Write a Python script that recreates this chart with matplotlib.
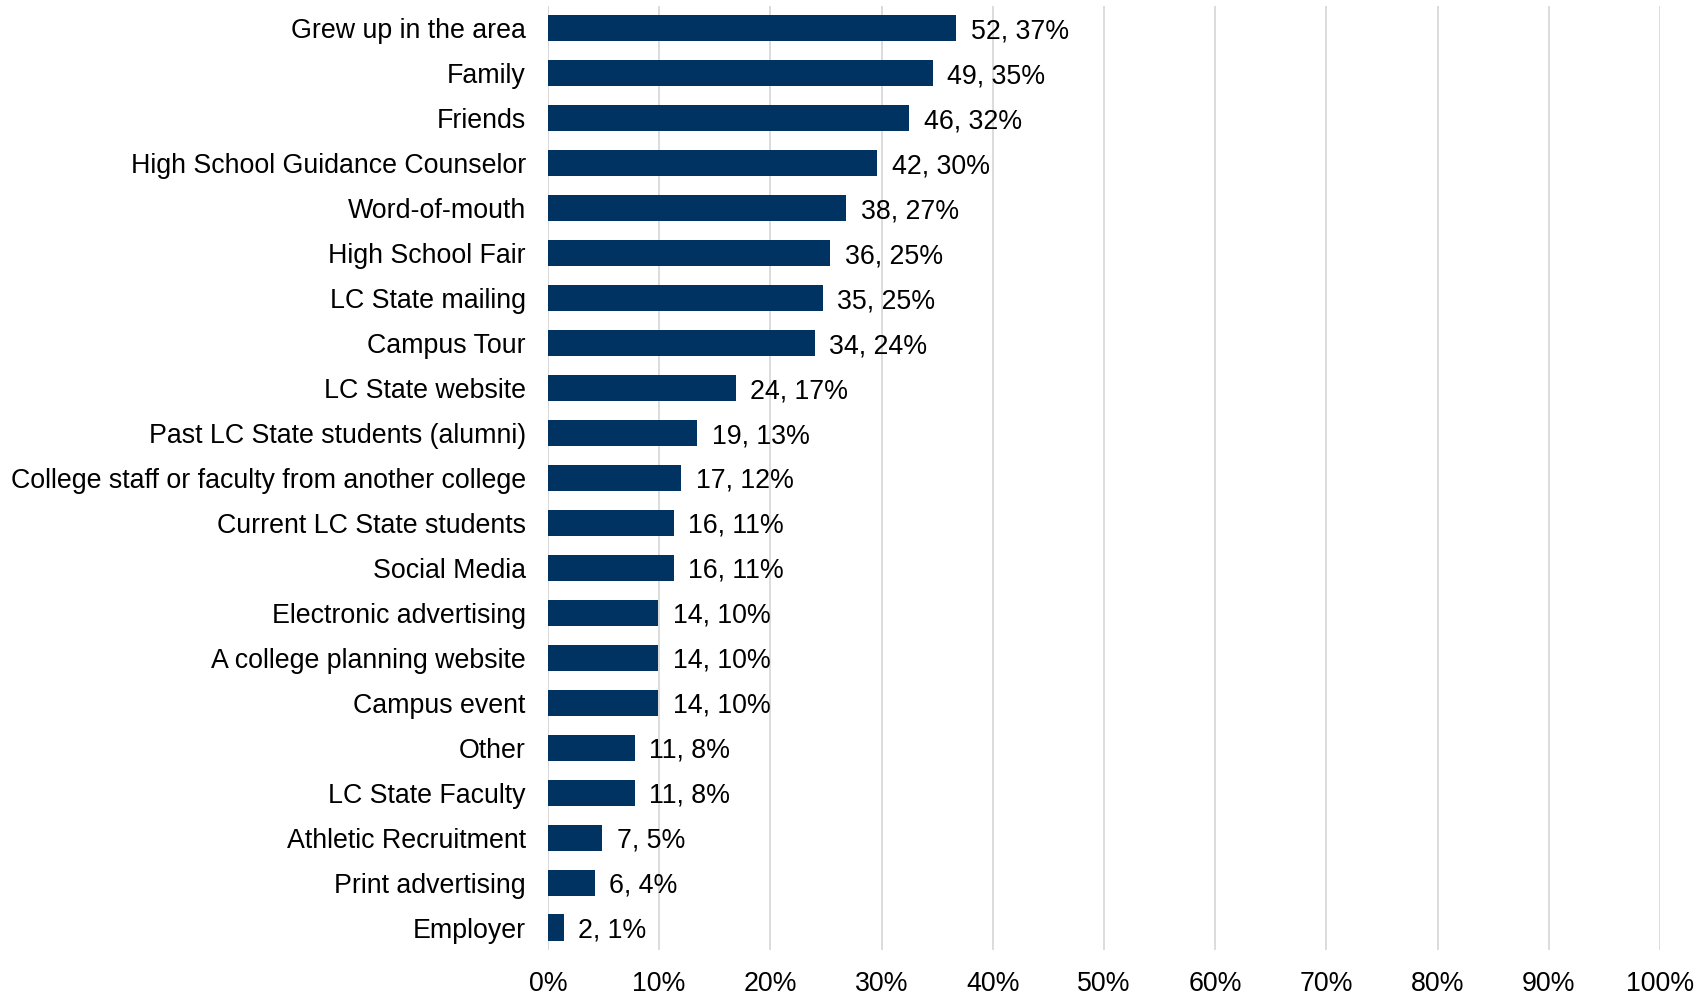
import matplotlib.pyplot as plt
from matplotlib.ticker import FuncFormatter

plt.rcParams['font.family'] = ['Liberation Sans', 'DejaVu Sans']

# top to bottom, as in the chart
categories = [
    'Grew up in the area', 'Family', 'Friends', 'High School Guidance Counselor',
    'Word-of-mouth', 'High School Fair', 'LC State mailing', 'Campus Tour',
    'LC State website', 'Past LC State students (alumni)',
    'College staff or faculty from another college', 'Current LC State students',
    'Social Media', 'Electronic advertising', 'A college planning website',
    'Campus event', 'Other', 'LC State Faculty', 'Athletic Recruitment',
    'Print advertising', 'Employer',
]
counts = [52, 49, 46, 42, 38, 36, 35, 34, 24, 19, 17, 16, 16, 14, 14, 14, 11, 11, 7, 6, 2]
pct = [36.7, 34.6, 32.5, 29.6, 26.8, 25.4, 24.7, 24.0, 16.9, 13.4, 12.0, 11.3,
       11.3, 9.9, 9.9, 9.9, 7.8, 7.8, 4.9, 4.2, 1.4]
pct_labels = ['37%', '35%', '32%', '30%', '27%', '25%', '25%', '24%', '17%', '13%',
              '12%', '11%', '11%', '10%', '10%', '10%', '8%', '8%', '5%', '4%', '1%']

fig = plt.figure(figsize=(17.05, 9.96), dpi=100)
ax = fig.add_axes([0.3214, 0.0462, 0.6522, 0.9478])

ypos = list(range(len(categories)))
ax.barh(ypos, pct, height=0.58, color='#003262', zorder=3)
for y, p, n, lab in zip(ypos, pct, counts, pct_labels):
    ax.annotate(f'{n}, {lab}', (p, y), xytext=(10.5, 0), textcoords='offset points',
                va='center_baseline', ha='left', fontsize=19.3, color='black')

ax.set_ylim(len(categories) - 0.5, -0.5)
ax.set_xlim(0, 100)
ax.set_yticks(ypos)
ax.set_yticklabels(categories, fontsize=19.3)
ax.set_xticks(range(0, 101, 10))
ax.xaxis.set_major_formatter(FuncFormatter(lambda v, _: f'{v:.0f}%'))
ax.tick_params(axis='x', labelsize=19.3, length=0, pad=15)
ax.tick_params(axis='y', length=0, pad=16)
ax.grid(axis='x', color='#d9d9d9', linewidth=1.3, zorder=0)
for s in ax.spines.values():
    s.set_visible(False)
ax.axvline(0, color='#d9d9d9', linewidth=1.3, zorder=1)

fig.savefig('out.png', dpi=100)
